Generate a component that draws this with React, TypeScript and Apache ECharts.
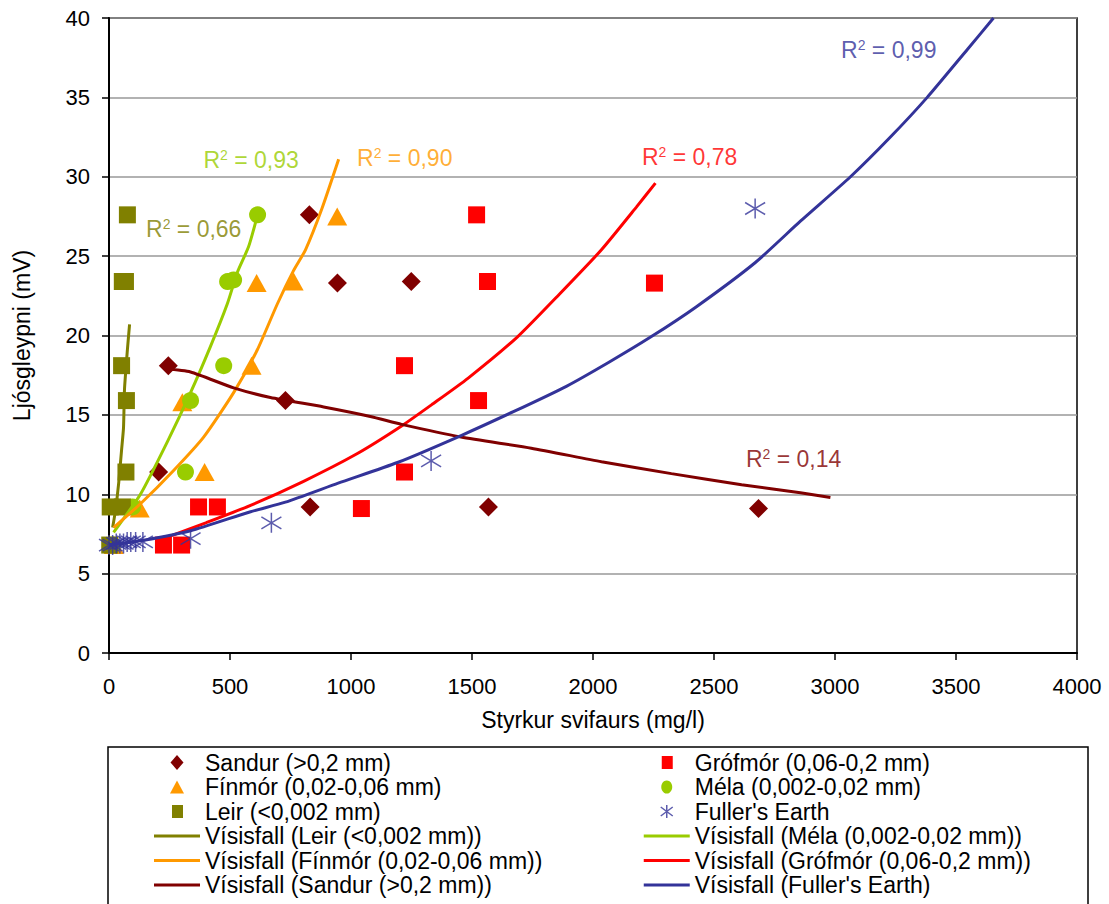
import React, { useEffect, useRef } from "react";
import * as echarts from "echarts";

const FONT = 'Arial, "Liberation Sans", Helvetica, sans-serif';

// ---- Measured points [Styrkur svifaurs (mg/l), Ljósgleypni (mV)] ----
const sandurPts = [[828, 27.6], [944, 23.3], [1249, 23.4], [245, 18.1], [729, 15.9], [205, 11.4], [831, 9.2], [1568, 9.2], [2684, 9.1]];
const grofmorPts = [[1519, 27.6], [1564, 23.4], [2254, 23.3], [1221, 18.1], [1527, 15.9], [1221, 11.4], [1043, 9.1], [370, 9.2], [448, 9.2], [225, 6.8], [300, 6.8]];
const finmorPts = [[943, 27.5], [763, 23.4], [610, 23.3], [589, 18.1], [303, 15.8], [395, 11.4], [127, 9.1], [20, 6.8]];
const melaPts = [[614, 27.6], [490, 23.4], [515, 23.5], [474, 18.1], [337, 15.9], [316, 11.4], [97, 9.2], [15, 6.8]];
const leirPts = [[76, 27.6], [55, 23.4], [68, 23.4], [52, 18.1], [72, 15.9], [70, 11.4], [5, 9.2], [55, 9.2], [3, 6.8]];
const fullersPts = [[2670, 28.0], [1331, 12.1], [671, 8.2], [337, 7.2], [0, 6.8], [15, 6.8], [30, 6.9], [45, 6.9], [60, 6.9], [75, 7.0], [90, 7.0], [110, 7.0], [140, 7.0]];

// ---- Trend lines (Vísisfall) ----
const leirTrend = [[15, 7.9], [27, 9.0], [40, 10.7], [52, 12.8], [60, 14.2], [64, 16.6], [76, 19.1], [85, 20.7]];
const melaTrend = [[19, 7.6], [130, 10.0], [241, 13.3], [337, 16.4], [419, 19.3], [489, 22.0], [531, 24.0], [577, 25.6], [614, 27.6]];
const finmorTrend = [[19, 7.9], [130, 9.4], [267, 11.5], [391, 13.6], [515, 16.4], [613, 19.1], [696, 22.0], [763, 24.1], [812, 25.4], [880, 28.0], [949, 31.1]];
const grofmorTrend = [[225, 7.2], [400, 8.2], [585, 9.3], [802, 10.8], [1019, 12.5], [1209, 14.3], [1339, 15.7], [1483, 17.3], [1687, 19.9], [1861, 22.6], [2035, 25.4], [2180, 28.1], [2258, 29.6]];
const sandurTrend = [[230, 17.9], [337, 17.7], [515, 16.7], [667, 16.1], [887, 15.5], [1080, 14.9], [1209, 14.4], [1455, 13.6], [1745, 12.9], [2035, 12.05], [2324, 11.3], [2614, 10.6], [2857, 10.1], [2981, 9.8]];
const fullersTrend = [[0, 6.8], [143, 7.1], [337, 7.7], [585, 8.9], [729, 9.5], [947, 10.7], [1192, 12.0], [1455, 13.7], [1671, 15.2], [1890, 16.8], [2064, 18.3], [2238, 19.9], [2426, 21.8], [2671, 24.6], [2857, 27.2], [3064, 30.0], [3229, 32.5], [3381, 35.0], [3546, 38.0], [3655, 40.0]];

// ---- R² annotations ----
const r2Values = ["0,66", "0,93", "0,90", "0,78", "0,99", "0,14"];
const r2Anchors = [[151, 26.7], [388, 31.05], [1023, 31.2], [2200, 31.25], [3023, 38.0], [2630, 12.2]];
const r2Colors = ["#808000", "#99CC00", "#FF9900", "#FF0000", "#333399", "#800000"];

// ---- Axis ticks ----
const xMin = 0, xMax = 4000, xStep = 500;
const yMin = 0, yMax = 40, yStep = 5;

const NAMES = {
  sandur: "Sandur (>0,2 mm)",
  grofmor: "Grófmór (0,06-0,2 mm)",
  finmor: "Fínmór (0,02-0,06 mm)",
  mela: "Méla (0,002-0,02 mm)",
  leir: "Leir (<0,002 mm)",
  fullers: "Fuller's Earth",
};
const trendName = (n: string) => `Vísisfall (${n})`;

const COLORS = {
  sandur: "#800000",
  grofmor: "#FF0000",
  finmor: "#FF9900",
  mela: "#99CC00",
  leir: "#808000",
  fullers: "#333399",
};

const STAR = "path://M10,0L10,20M0,4L20,16M0,16L20,4";

// legend icons in a 46x15 box (corner anchors keep the box from stretching)
const BOX = "M0,0L0,0M46,15L46,15";
const ICON_DIAMOND = `path://${BOX}M23,0L29.5,7.5L23,15L16.5,7.5Z`;
const ICON_SQUARE = `path://${BOX}M18,1L29,1L29,14L18,14Z`;
const ICON_TRIANGLE = `path://${BOX}M23,1L30,14L16,14Z`;
const ICON_CIRCLE = `path://${BOX}M23,1A5.5,6.5,0,1,1,22.99,1Z`;
const ICON_STAR = `path://${BOX}M23,1L23,14M17,3L29,12M17,12L29,3`;
const ICON_LINE = `path://${BOX}M0,6L46,6L46,9L0,9Z`;

export default function App() {
  const ref = useRef<HTMLDivElement>(null);

  useEffect(() => {
    if (!ref.current) return;
    const chart = echarts.init(ref.current, undefined, { renderer: "svg" });

    const scatter = (name: string, data: number[][], color: string, symbol: string, size: number | number[]) => ({
      type: "scatter",
      name,
      data,
      symbol,
      symbolSize: size,
      itemStyle: { color, opacity: 1 },
      z: 2,
      silent: true,
    });
    const trend = (name: string, data: number[][], color: string) => ({
      type: "line",
      name,
      data,
      symbol: "none",
      smooth: 0.2,
      lineStyle: { color, width: 3 },
      itemStyle: { color },
      z: 3,
      silent: true,
    });

    const labelData = r2Values.map((v, i) => ({
      value: r2Anchors[i],
      label: {
        formatter: `{r|R}{s|2}{r| = ${v}}`,
        rich: {
          r: { fontSize: 23, fontFamily: FONT, color: r2Colors[i], lineHeight: 24 },
          s: { fontSize: 14, fontFamily: FONT, color: r2Colors[i], verticalAlign: "top", lineHeight: 24 },
        },
      },
    }));

    const textStyle = { fontSize: 23, fontFamily: FONT, color: "#000", lineHeight: 23 };
    const sym = (name: string, icon: string, color: string) => ({
      name,
      icon,
      itemStyle: { color, borderWidth: 0 },
    });
    const ln = (name: string, color: string) => ({
      name,
      icon: ICON_LINE,
      itemStyle: { color, borderWidth: 0 },
    });
    const leftLegend = [
      sym(NAMES.sandur, ICON_DIAMOND, COLORS.sandur),
      sym(NAMES.finmor, ICON_TRIANGLE, COLORS.finmor),
      sym(NAMES.leir, ICON_SQUARE, COLORS.leir),
      ln(trendName(NAMES.leir), COLORS.leir),
      ln(trendName(NAMES.finmor), COLORS.finmor),
      ln(trendName(NAMES.sandur), COLORS.sandur),
    ];
    const rightLegend = [
      sym(NAMES.grofmor, ICON_SQUARE, COLORS.grofmor),
      sym(NAMES.mela, ICON_CIRCLE, COLORS.mela),
      {
        name: NAMES.fullers,
        icon: ICON_STAR,
        itemStyle: { color: "rgba(0,0,0,0)", borderColor: COLORS.fullers, borderWidth: 1.5 },
      },
      ln(trendName(NAMES.mela), COLORS.mela),
      ln(trendName(NAMES.grofmor), COLORS.grofmor),
      ln(trendName(NAMES.fullers), COLORS.fullers),
    ];

    const legendBase = {
      orient: "vertical",
      top: 751,
      padding: 0,
      itemGap: 1.5,
      itemWidth: 46,
      itemHeight: 15,
      textStyle,
      selectedMode: false,
    };

    chart.setOption({
      animation: false,
      backgroundColor: "#fff",
      grid: {
        left: 109,
        top: 18,
        right: 32,
        bottom: 251,
        containLabel: false,
        show: true,
        borderColor: "#000",
        borderWidth: 1.5,
      },
      xAxis: {
        type: "value",
        min: xMin,
        max: xMax,
        interval: xStep,
        name: "Styrkur svifaurs (mg/l)",
        nameLocation: "middle",
        nameGap: 55,
        nameTextStyle: { fontSize: 23, fontFamily: FONT, color: "#000" },
        axisLine: { show: true, onZero: false, lineStyle: { color: "#000", width: 2 } },
        axisTick: { show: true, inside: false, length: 7, lineStyle: { color: "#000", width: 1.5 } },
        axisLabel: { fontSize: 22, fontFamily: FONT, color: "#000", margin: 22, formatter: (v: number) => String(v) },
        splitLine: { show: false },
      },
      yAxis: {
        type: "value",
        min: yMin,
        max: yMax,
        interval: yStep,
        name: "Ljósgleypni (mV)",
        nameLocation: "middle",
        nameGap: 76,
        nameTextStyle: { fontSize: 23, fontFamily: FONT, color: "#000" },
        axisLine: { show: true, onZero: false, lineStyle: { color: "#000", width: 2 } },
        axisTick: { show: true, inside: false, length: 7, lineStyle: { color: "#000", width: 1.5 } },
        axisLabel: { fontSize: 22, fontFamily: FONT, color: "#000", margin: 19, formatter: (v: number) => String(v) },
        splitLine: { show: true, lineStyle: { color: "#999", width: 1.5 } },
      },
      legend: [
        { ...legendBase, left: 154, data: leftLegend },
        { ...legendBase, left: 643, data: rightLegend },
      ],
      graphic: [
        {
          type: "rect",
          shape: { x: 108, y: 747, width: 980, height: 200 },
          style: { fill: "none", stroke: "#000", lineWidth: 1.5 },
          silent: true,
          z: -1,
        },
      ],
      series: [
        scatter(NAMES.sandur, sandurPts, COLORS.sandur, "diamond", 19),
        scatter(NAMES.grofmor, grofmorPts, COLORS.grofmor, "rect", 17),
        scatter(NAMES.finmor, finmorPts, COLORS.finmor, "triangle", [20, 18]),
        scatter(NAMES.mela, melaPts, COLORS.mela, "circle", 17),
        scatter(NAMES.leir, leirPts, COLORS.leir, "rect", 17),
        {
          type: "scatter",
          name: NAMES.fullers,
          data: fullersPts,
          symbol: STAR,
          symbolSize: 20,
          itemStyle: { color: COLORS.fullers, borderColor: COLORS.fullers, borderWidth: 1.5 },
          z: 2,
          silent: true,
        },
        trend(trendName(NAMES.leir), leirTrend, COLORS.leir),
        trend(trendName(NAMES.mela), melaTrend, COLORS.mela),
        trend(trendName(NAMES.finmor), finmorTrend, COLORS.finmor),
        trend(trendName(NAMES.grofmor), grofmorTrend, COLORS.grofmor),
        trend(trendName(NAMES.sandur), sandurTrend, COLORS.sandur),
        trend(trendName(NAMES.fullers), fullersTrend, COLORS.fullers),
        {
          type: "scatter",
          name: "R2",
          data: labelData,
          symbol: "circle",
          symbolSize: 1,
          itemStyle: { color: "rgba(0,0,0,0)" },
          label: { show: true, position: "right", distance: 0 },
          z: 4,
          silent: true,
        },
      ],
    });

    return () => chart.dispose();
  }, []);

  return (
    <div
      ref={ref}
      style={{ position: "absolute", left: 0, top: 0, width: 1109, height: 904, background: "#fff" }}
    />
  );
}
